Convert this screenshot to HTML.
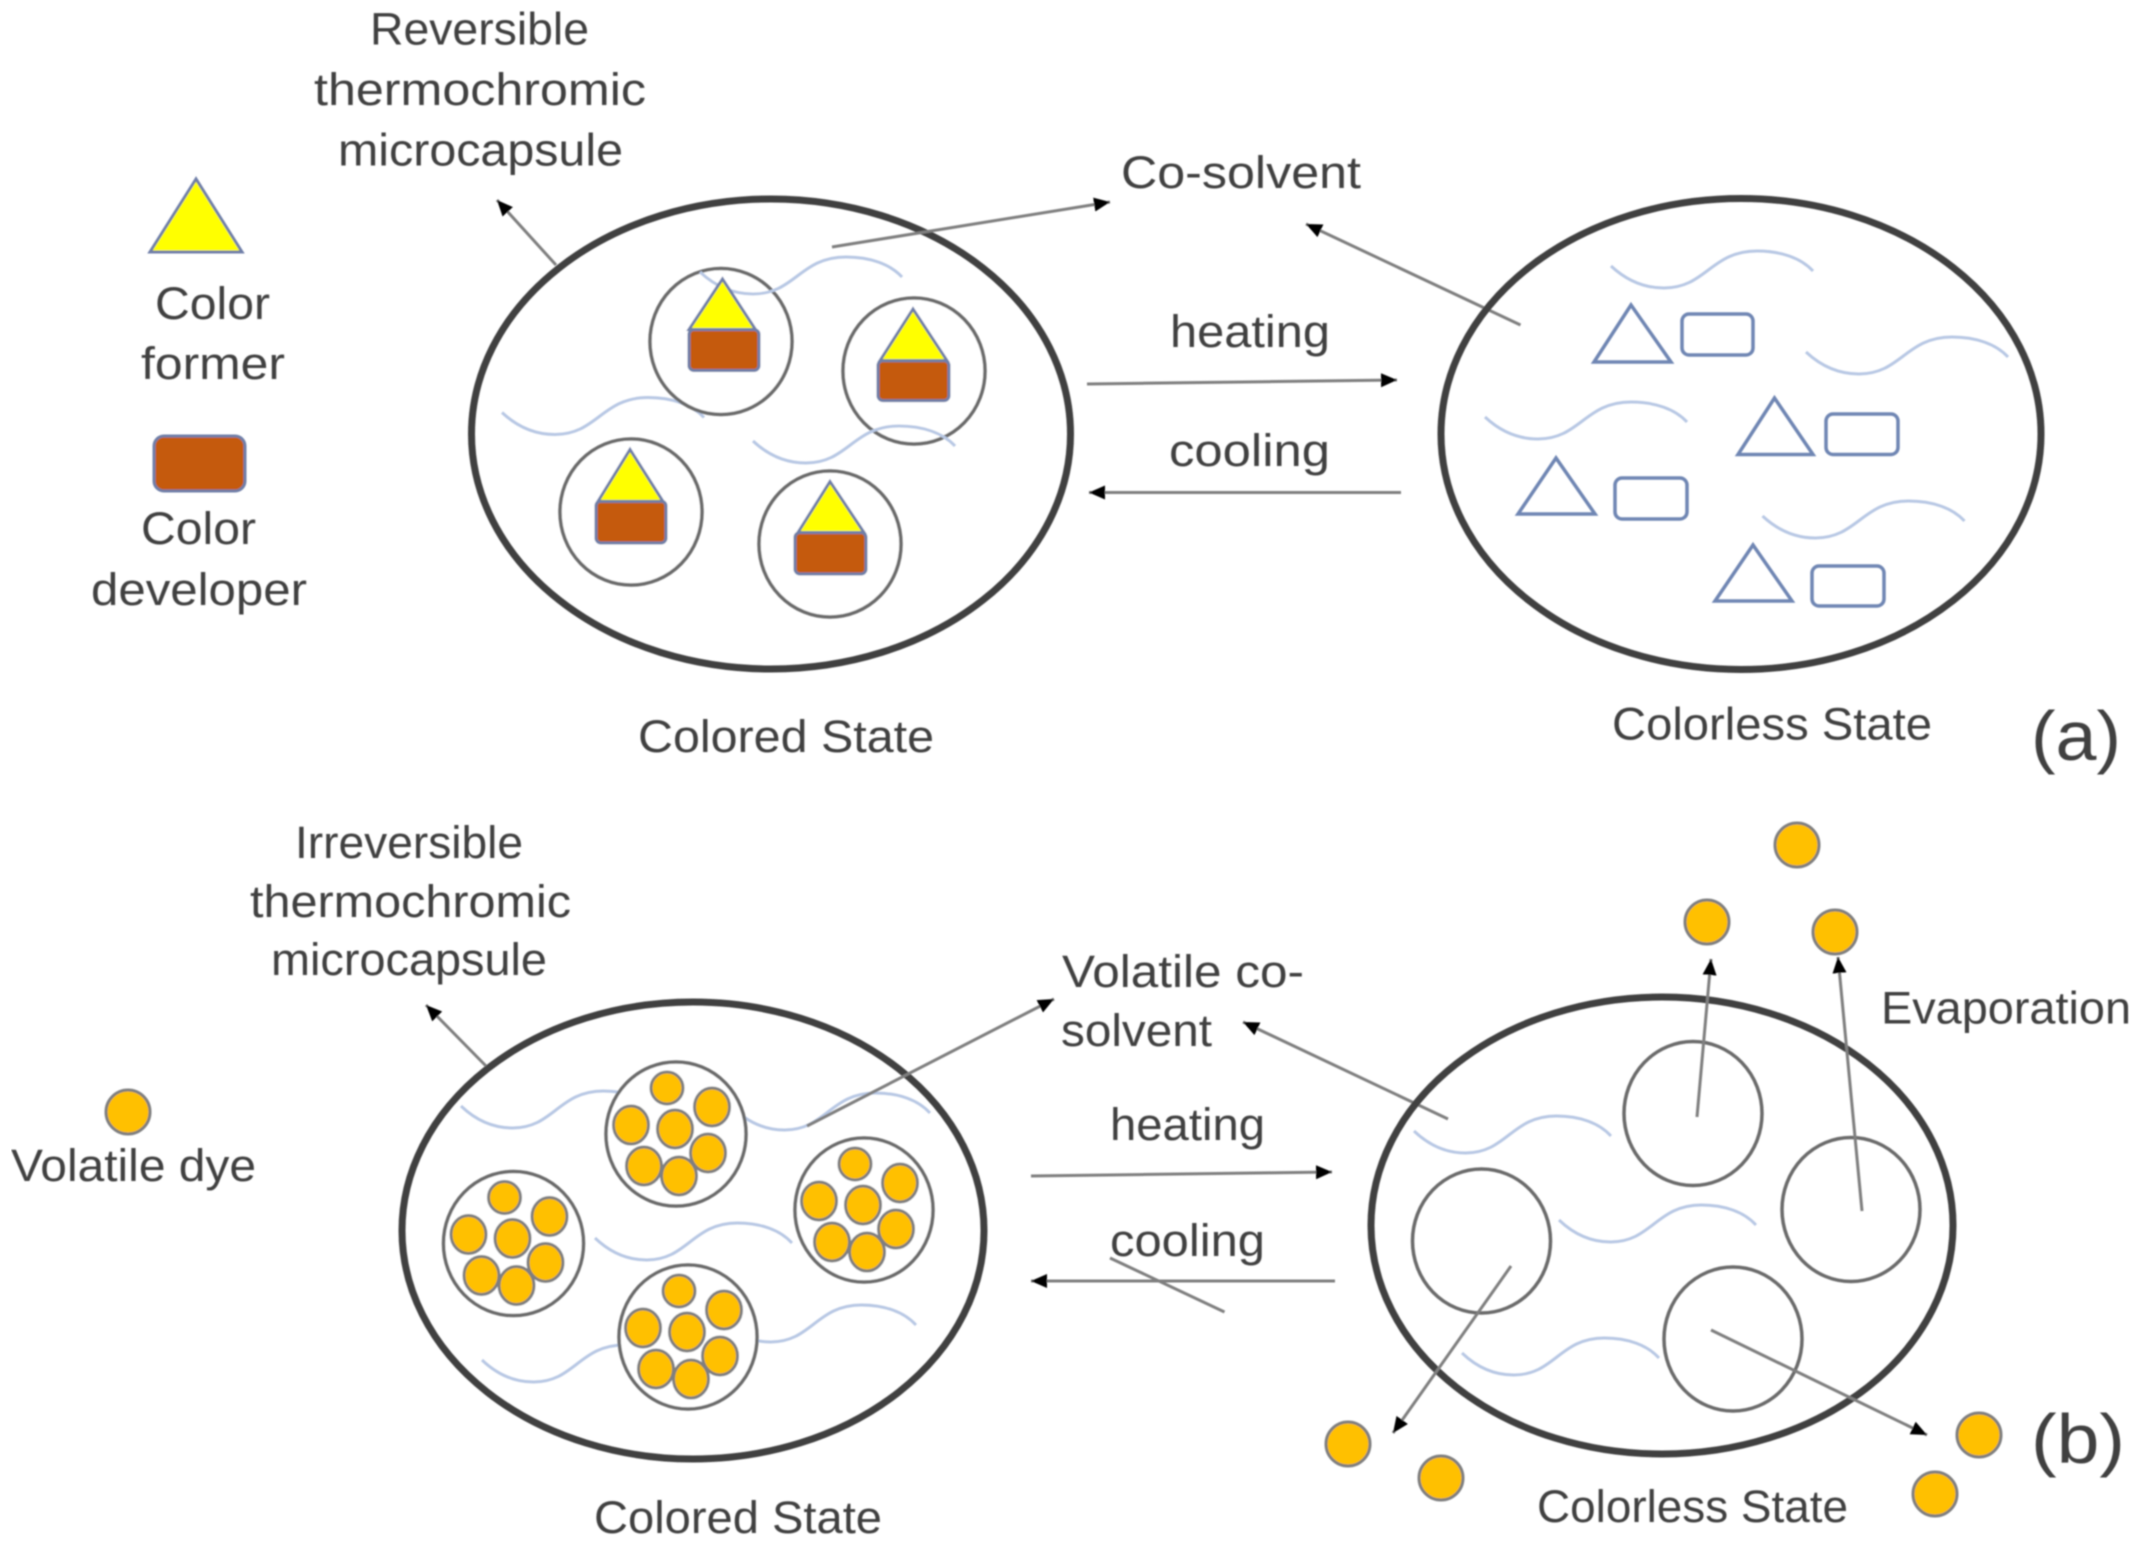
<!DOCTYPE html>
<html><head><meta charset="utf-8"><style>
html,body{margin:0;padding:0;background:#fff;width:2154px;height:1550px;overflow:hidden}
svg{display:block}
text{font-family:"Liberation Sans",sans-serif;font-size:45px;fill:#404040}
.big{fill:none;stroke:#404040;stroke-width:7}
.cap{fill:#fff;stroke:#6b6b6b;stroke-width:3.5}
.emp{fill:none;stroke:#6b6b6b;stroke-width:3.5}
.w{fill:none;stroke:#b8c8e4;stroke-width:3}
.ln{stroke:#7f7f7f;stroke-width:3;fill:none}
.la{stroke:#7f7f7f;stroke-width:3;fill:none;marker-end:url(#ah)}
.tr{fill:#ffff00;stroke:#6f7fa8;stroke-width:3}
.br{fill:#c55a11;stroke:#6f7fa8;stroke-width:3}
.ot{fill:none;stroke:#6f86b3;stroke-width:3.5}
.dy{fill:#ffc000;stroke:#7f7f7f;stroke-width:3}
</style></head><body>
<svg xmlns="http://www.w3.org/2000/svg" width="2154" height="1550" viewBox="0 0 2154 1550">
<defs>
<filter id="b" x="0" y="0" width="100%" height="100%"><feGaussianBlur stdDeviation="0.8"/></filter>
<marker id="ah" markerUnits="userSpaceOnUse" markerWidth="17" markerHeight="15" refX="16" refY="7" orient="auto"><path d="M0,0L16,7L0,14Z" fill="#000"/></marker>
<path id="wv" d="M0,0C15,14 33,22 53,22C95,22 100,-15 146,-15C170,-15 190,-8 202,5"/>
<g id="dots" class="dy">
<ellipse cx="-9" cy="-46" rx="16" ry="16"/>
<ellipse cx="36" cy="-27" rx="17.5" ry="19"/>
<ellipse cx="-45" cy="-9" rx="17.5" ry="19"/>
<ellipse cx="-1" cy="-5" rx="17.5" ry="19"/>
<ellipse cx="32" cy="19" rx="17.5" ry="19"/>
<ellipse cx="-32" cy="32" rx="17.5" ry="19"/>
<ellipse cx="3" cy="42" rx="17.5" ry="19"/>
</g>
</defs>
<rect width="2154" height="1550" fill="#fff"/>
<g filter="url(#b)">

<!-- panel a left -->
<polygon class="tr" points="196,179 150,252 242,252"/>
<rect class="br" x="154" y="436" width="91" height="55" rx="10"/>
<text x="370" y="44.5" textLength="219" lengthAdjust="spacingAndGlyphs">Reversible</text>
<text x="314" y="105" textLength="332" lengthAdjust="spacingAndGlyphs">thermochromic</text>
<text x="338" y="165.5" textLength="285" lengthAdjust="spacingAndGlyphs">microcapsule</text>
<text x="155" y="319" textLength="115" lengthAdjust="spacingAndGlyphs">Color</text>
<text x="141" y="379" textLength="144" lengthAdjust="spacingAndGlyphs">former</text>
<text x="141" y="544" textLength="115" lengthAdjust="spacingAndGlyphs">Color</text>
<text x="91" y="605" textLength="216" lengthAdjust="spacingAndGlyphs">developer</text>
<text x="638" y="752" textLength="296" lengthAdjust="spacingAndGlyphs">Colored State</text>

<ellipse class="big" cx="771" cy="434" rx="299.5" ry="235"/>
<use href="#wv" class="w" x="502" y="412.5"/>
<ellipse class="cap" cx="721" cy="341.5" rx="71" ry="73"/>
<ellipse class="cap" cx="914" cy="371" rx="71" ry="73"/>
<ellipse class="cap" cx="631" cy="512" rx="71" ry="73"/>
<ellipse class="cap" cx="830" cy="544" rx="71" ry="73"/>
<use href="#wv" class="w" x="700" y="272"/>
<use href="#wv" class="w" x="753" y="441"/>
<rect class="br" x="689" y="329.5" width="70" height="41" rx="5"/>
<polygon class="tr" points="722.5,279 689,329.5 755.5,329.5"/>
<rect class="br" x="878" y="360.6" width="71" height="40" rx="5"/>
<polygon class="tr" points="913,309 880,360.6 947,360.6"/>
<rect class="br" x="596" y="501" width="70" height="42" rx="5"/>
<polygon class="tr" points="630,449.5 598,501.4 663,501.4"/>
<rect class="br" x="795" y="532.5" width="71" height="41.5" rx="5"/>
<polygon class="tr" points="830,481.6 798,532.5 864,532.5"/>

<line class="la" x1="556" y1="265" x2="497" y2="200"/>
<line class="la" x1="832" y1="247" x2="1110" y2="202"/>

<!-- panel a middle -->
<text x="1121" y="188" textLength="240" lengthAdjust="spacingAndGlyphs">Co-solvent</text>
<text x="1170" y="347" textLength="160" lengthAdjust="spacingAndGlyphs">heating</text>
<text x="1169" y="466" textLength="161" lengthAdjust="spacingAndGlyphs">cooling</text>
<line class="la" x1="1087" y1="384" x2="1397" y2="380"/>
<line class="la" x1="1401" y1="492.5" x2="1089" y2="492.5"/>
<line class="la" x1="1520.5" y1="325" x2="1306" y2="224"/>

<!-- panel a right -->
<ellipse class="big" cx="1741" cy="434" rx="300" ry="235.5"/>
<use href="#wv" class="w" x="1611" y="266"/>
<use href="#wv" class="w" x="1806" y="352"/>
<use href="#wv" class="w" x="1485" y="417"/>
<use href="#wv" class="w" x="1762.5" y="516"/>
<polygon class="ot" points="1631,305 1594,362 1671,362"/>
<rect class="ot" x="1682" y="314" width="71" height="41" rx="7"/>
<polygon class="ot" points="1774.5,398 1738,454.5 1813,454.5"/>
<rect class="ot" x="1826" y="414" width="72" height="40.5" rx="7"/>
<polygon class="ot" points="1556,458 1518,514 1595,514"/>
<rect class="ot" x="1615" y="478" width="72" height="41" rx="7"/>
<polygon class="ot" points="1753,545 1715,601 1792,601"/>
<rect class="ot" x="1812" y="566" width="72" height="40" rx="7"/>
<text x="1612" y="739.5" textLength="320" lengthAdjust="spacingAndGlyphs">Colorless State</text>
<text x="2031" y="760" textLength="90" lengthAdjust="spacingAndGlyphs" style="font-size:70px">(a)</text>

<!-- panel b left -->
<text x="295" y="858" textLength="228" lengthAdjust="spacingAndGlyphs">Irreversible</text>
<text x="250" y="917" textLength="321" lengthAdjust="spacingAndGlyphs">thermochromic</text>
<text x="271" y="975" textLength="276" lengthAdjust="spacingAndGlyphs">microcapsule</text>
<text x="11" y="1181" textLength="245" lengthAdjust="spacingAndGlyphs">Volatile dye</text>
<text x="594" y="1533" textLength="288" lengthAdjust="spacingAndGlyphs">Colored State</text>
<circle class="dy" cx="128" cy="1112" r="22"/>

<ellipse class="big" cx="693" cy="1230.5" rx="291" ry="228.5"/>
<use href="#wv" class="w" transform="translate(461,1106) scale(.975,1)"/>
<use href="#wv" class="w" transform="translate(733,1108) scale(.975,1)"/>
<use href="#wv" class="w" transform="translate(595,1238) scale(.975,1)"/>
<use href="#wv" class="w" transform="translate(482,1360) scale(.975,1)"/>
<use href="#wv" class="w" transform="translate(719,1320) scale(.975,1)"/>
<ellipse class="cap" cx="676" cy="1134" rx="70" ry="72"/>
<ellipse class="cap" cx="864" cy="1210" rx="69" ry="72"/>
<ellipse class="cap" cx="513.5" cy="1243.5" rx="70" ry="72"/>
<ellipse class="cap" cx="688" cy="1337" rx="69" ry="72"/>
<use href="#dots" x="676" y="1134"/>
<use href="#dots" x="864" y="1210"/>
<use href="#dots" x="513.5" y="1243.5"/>
<use href="#dots" x="688" y="1337"/>
<line class="la" x1="486" y1="1066" x2="426" y2="1005"/>
<line class="la" x1="807" y1="1126" x2="1054" y2="999"/>

<!-- panel b middle -->
<text x="1062" y="987" textLength="242" lengthAdjust="spacingAndGlyphs">Volatile co-</text>
<text x="1061" y="1046" textLength="151" lengthAdjust="spacingAndGlyphs">solvent</text>
<text x="1110" y="1140" textLength="155" lengthAdjust="spacingAndGlyphs">heating</text>
<text x="1110" y="1256" textLength="155" lengthAdjust="spacingAndGlyphs">cooling</text>
<line class="la" x1="1031" y1="1176" x2="1332" y2="1172"/>
<line class="la" x1="1335" y1="1281" x2="1031" y2="1281"/>
<line class="ln" x1="1110" y1="1258" x2="1224.5" y2="1312"/>
<line class="la" x1="1448" y1="1119" x2="1243" y2="1022"/>

<!-- panel b right -->
<ellipse class="big" cx="1662" cy="1225.5" rx="291" ry="228.5"/>
<ellipse class="emp" cx="1693" cy="1113.5" rx="69" ry="72"/>
<ellipse class="emp" cx="1851" cy="1209.5" rx="69" ry="72"/>
<ellipse class="emp" cx="1481.5" cy="1241" rx="69" ry="72"/>
<ellipse class="emp" cx="1733" cy="1339" rx="69" ry="72"/>
<use href="#wv" class="w" transform="translate(1414,1131) scale(.975,1)"/>
<use href="#wv" class="w" transform="translate(1559,1220) scale(.975,1)"/>
<use href="#wv" class="w" transform="translate(1462,1353) scale(.975,1)"/>
<line class="la" x1="1697" y1="1117" x2="1711" y2="959"/>
<line class="la" x1="1862" y1="1211" x2="1838" y2="957"/>
<line class="la" x1="1511" y1="1266" x2="1393" y2="1433"/>
<line class="la" x1="1711" y1="1330" x2="1927" y2="1435"/>
<circle class="dy" cx="1707" cy="922" r="22"/>
<circle class="dy" cx="1797" cy="845" r="22"/>
<circle class="dy" cx="1835" cy="932" r="22"/>
<circle class="dy" cx="1348" cy="1444" r="22"/>
<circle class="dy" cx="1441" cy="1478" r="22"/>
<circle class="dy" cx="1979" cy="1435" r="22"/>
<circle class="dy" cx="1935" cy="1494" r="22"/>
<text x="1881" y="1023.5" textLength="250" lengthAdjust="spacingAndGlyphs">Evaporation</text>
<text x="1537" y="1522" textLength="311" lengthAdjust="spacingAndGlyphs">Colorless State</text>
<text x="2031" y="1463" textLength="94" lengthAdjust="spacingAndGlyphs" style="font-size:70px">(b)</text>
</g>
</svg>
</body></html>
